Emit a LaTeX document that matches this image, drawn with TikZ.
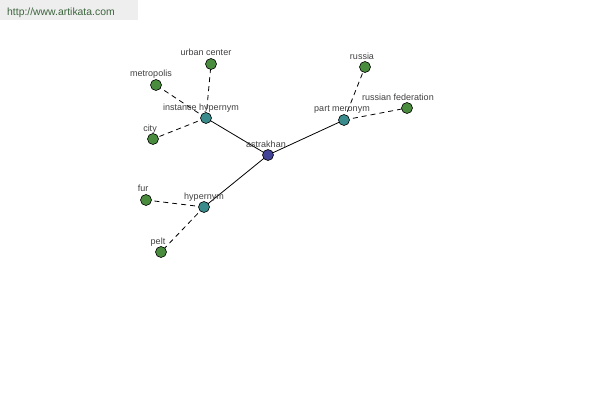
\documentclass[tikz,border=0pt]{standalone}
\usepackage{fontspec}
\setmainfont{Liberation Sans}
\begin{document}
\begin{tikzpicture}[x=1pt,y=-1pt,
  dot/.style={circle,draw=black,line width=0.6pt,minimum size=11pt,inner sep=0pt},
  leaf/.style={dot,fill=leafgreen},
  hub/.style={dot,fill=hubteal},
  root/.style={dot,fill=rootblue},
  lbl/.style={font=\fontsize{9}{10}\selectfont,text=black!75,inner sep=0pt},
  solidedge/.style={draw=black,line width=0.8pt},
  dashedge/.style={draw=black,line width=0.8pt,dash pattern=on 5pt off 4pt}]
\definecolor{leafgreen}{RGB}{74,140,62}
\definecolor{hubteal}{RGB}{58,140,140}
\definecolor{rootblue}{RGB}{66,66,150}
\definecolor{urlgray}{RGB}{238,238,238}
\definecolor{urltext}{RGB}{60,100,60}
\useasboundingbox (0,0) rectangle (600,400);
\fill[urlgray] (0,0) rectangle (138,20);
\node[anchor=base west,inner sep=0pt,text=urltext,font=\fontsize{10.4}{12}\selectfont] (url) at (7,15) {http://www.artikata.com};
% nodes
\coordinate (pa) at (268,155);
\coordinate (pih) at (206,118);
\coordinate (ph) at (204,207);
\coordinate (ppm) at (344,120);
\coordinate (puc) at (211,64);
\coordinate (pme) at (156,85);
\coordinate (pci) at (153,139);
\coordinate (pru) at (365,67);
\coordinate (prf) at (407,108);
\coordinate (pfu) at (146,200);
\coordinate (ppe) at (161,252);
% edges
\path[solidedge] (pa) -- (pih);
\path[solidedge] (pa) -- (ph);
\path[solidedge] (pa) -- (ppm);
\path[dashedge] (pih) -- (puc);
\path[dashedge] (pih) -- (pme);
\path[dashedge] (pih) -- (pci);
\path[dashedge] (ppm) -- (pru);
\path[dashedge] (ppm) -- (prf);
\path[dashedge] (ph) -- (pfu);
\path[dashedge] (ph) -- (ppe);
% circles
\node[root] (a) at (pa) {};
\node[hub] (ih) at (pih) {};
\node[hub] (h) at (ph) {};
\node[hub] (pm) at (ppm) {};
\node[leaf] (uc) at (puc) {};
\node[leaf] (me) at (pme) {};
\node[leaf] (ci) at (pci) {};
\node[leaf] (ru) at (pru) {};
\node[leaf] (rf) at (prf) {};
\node[leaf] (fu) at (pfu) {};
\node[leaf] (pe) at (ppe) {};
% labels
\node[lbl,anchor=base] (la) at (266,147) {astrakhan};
\node[lbl,anchor=base] (lih) at (201,110) {instance hypernym};
\node[lbl,anchor=base] (lh) at (204,199) {hypernym};
\node[lbl,anchor=base] (lpm) at (342,111) {part meronym};
\node[lbl,anchor=base] (luc) at (206,55) {urban center};
\node[lbl,anchor=base] (lme) at (151,76) {metropolis};
\node[lbl,anchor=base] (lci) at (150,131) {city};
\node[lbl,anchor=base] (lru) at (362,59) {russia};
\node[lbl,anchor=base] (lrf) at (398,100) {russian federation};
\node[lbl,anchor=base] (lfu) at (143,191) {fur};
\node[lbl,anchor=base] (lpe) at (158,244) {pelt};
\end{tikzpicture}
\end{document}
